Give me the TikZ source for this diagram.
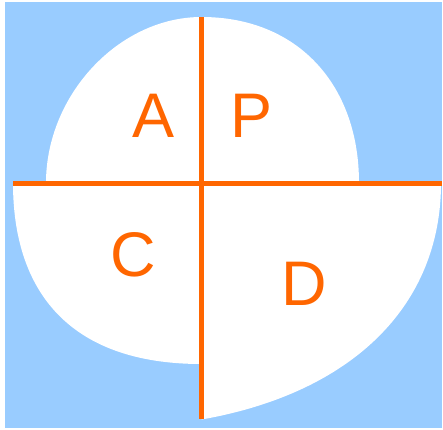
\documentclass[tikz,border=0pt]{standalone}
\usepackage{fontspec}
\setmainfont{Liberation Sans}
\definecolor{bgblue}{HTML}{99CCFF}
\definecolor{lineorange}{HTML}{FF6600}
\tikzset{
  quad/.style={fill=white, draw=none},
  axis/.style={draw=lineorange, line width=5pt, line cap=butt},
  lbl/.style={text=lineorange, font=\fontsize{63}{63}\selectfont, anchor=base, inner sep=0pt}
}
\begin{document}
\begin{tikzpicture}[x=1pt,y=-1pt]
\useasboundingbox (0,0) rectangle (443,429);
\fill[bgblue] (5,2) rectangle (442,428);
% quadrant A (upper left)
\fill[quad] (201.5,183) -- (46,183) .. controls (46,95) and (119,17) .. (201.5,17) -- cycle;
% quadrant P (upper right)
\fill[quad] (201.5,183) -- (201.5,17) .. controls (297,17) and (359,84) .. (359,183) -- cycle;
% quadrant C (lower left)
\fill[quad] (201.5,183) -- (13,183) .. controls (13,292) and (70,364) .. (201.5,364) -- cycle;
% quadrant D (lower right)
\fill[quad] (201.5,183) -- (441,183) .. controls (441,306) and (352,393) .. (201.5,419.5) -- cycle;
% axes
\coordinate (hl) at (13,183);
\coordinate (hr) at (442,183);
\coordinate (vt) at (201.5,17);
\coordinate (vb) at (201.5,419);
\draw[axis] (hl) -- (hr);
\draw[axis] (vt) -- (vb);
% labels
\node[lbl] (A) at (154,137.3) {A};
\node[lbl] (P) at (251.5,137.3) {P};
\node[lbl] (C) at (133,276) {C};
\node[lbl] (D) at (304,305) {D};
\end{tikzpicture}
\end{document}
